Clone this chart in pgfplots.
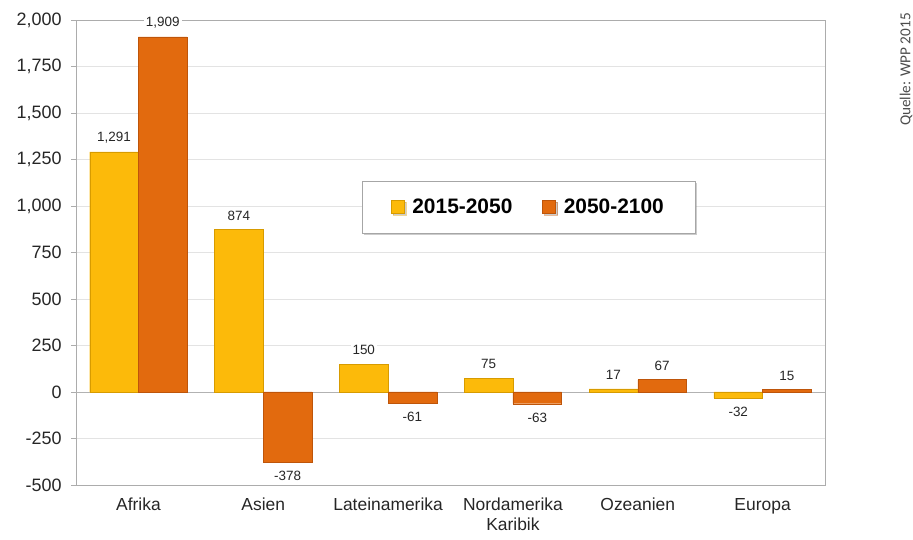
\documentclass[border=0pt]{standalone}
\usepackage{fontspec}
\setmainfont{Liberation Sans}
\newfontfamily\quellefont{Carlito}
\usepackage{pgfplots}
\pgfplotsset{compat=1.18}
\usetikzlibrary{shadows}
\definecolor{cyel}{RGB}{252,186,10}
\definecolor{cyelb}{RGB}{215,155,0}
\definecolor{cora}{RGB}{226,106,14}
\definecolor{corab}{RGB}{190,85,10}
\begin{document}
\begin{tikzpicture}[x=1bp,y=1bp]
\path[use as bounding box] (0,0) rectangle (913,540);
\begin{axis}[
  at={(76bp,55bp)}, anchor=south west, scale only axis,
  width=749bp, height=465bp,
  clip=false,
  ybar,
  ymin=-500, ymax=2000, ytick={-500,-250,...,2000},
  xmin=-0.5, xmax=5.5,
  xtick={0,...,5},
  xticklabels={\strut Afrika,\strut Asien,\strut Lateinamerika,{\strut Nordamerika\\\strut Karibik},\strut Ozeanien,\strut Europa},
  xticklabel style={align=center, font=\fontsize{17.5}{20}\selectfont, text=black!85, yshift=-3bp},
  major x tick style={draw=none},
  /pgf/number format/assume math mode=true,
  /pgf/number format/1000 sep={,},
  yticklabel style={font=\fontsize{18}{20}\selectfont, text=black!85, xshift=-6bp},
  ymajorgrids, major grid style={draw=gray!22},
  axis line style={draw=gray!65},
  tick align=outside, major tick length=5bp, tick style={draw=gray!65},
  ytick pos=left,
  bar width=0.39,
  nodes near coords,
  nodes near coords style={font=\fontsize{13.5}{15}\selectfont, fill=white, inner xsep=2bp, inner ysep=2bp, outer ysep=7bp, text=black!85,
    /pgf/number format/assume math mode=true, /pgf/number format/1000 sep={,}},
  legend style={at={(0.604,0.597)}, anchor=center, legend columns=2,
    draw=gray!70, fill=white, drop shadow={shadow xshift=2bp, shadow yshift=-2bp, opacity=0.4},
    font=\bfseries\fontsize{21}{24}\selectfont,
    inner xsep=29bp, inner ysep=16bp,
    /tikz/every even column/.append style={column sep=28bp}},
  legend image code/.code={\fill[#1] (0bp,-6bp) rectangle (13bp,7bp); \path (19bp,0bp);},
]
\draw[gray!60] (axis cs:-0.5,0) -- (axis cs:5.5,0);
\addplot[bar shift=-0.195, fill=cyel, draw=cyelb] coordinates {(0,1291) (1,874) (2,150) (3,75) (4,17) (5,-32)};
\addlegendentry{2015-2050}
\addplot[bar shift=0.195, fill=cora, draw=corab] coordinates {(0,1909) (1,-378) (2,-61) (3,-63) (4,67) (5,15)};
\addlegendentry{2050-2100}
\end{axis}
\node[rotate=90, anchor=east, font=\quellefont\fontsize{15.3}{17}\selectfont, text=black!70, inner sep=0pt] at (906,527) {Quelle: WPP 2015};
\end{tikzpicture}
\end{document}
